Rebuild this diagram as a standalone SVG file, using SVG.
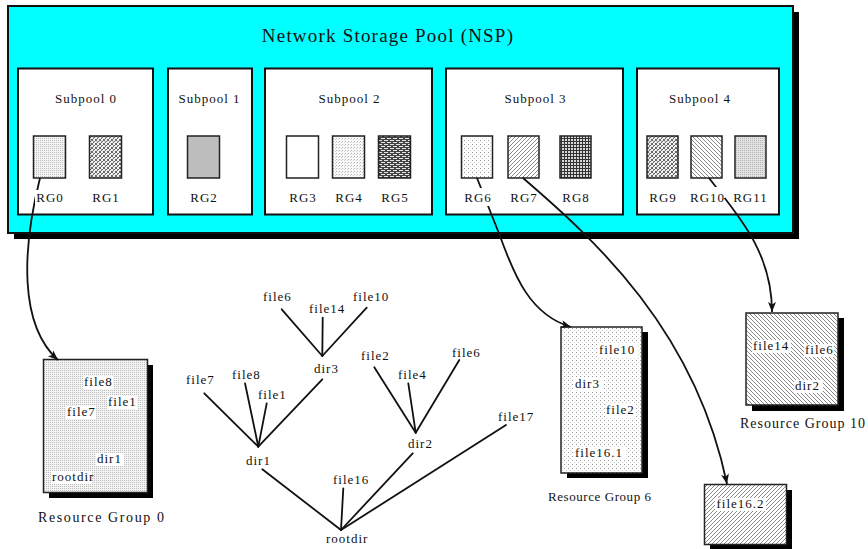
<svg xmlns="http://www.w3.org/2000/svg" width="868" height="549" viewBox="0 0 868 549">
  <style>
    text { font-family: "Liberation Serif", "Times New Roman", serif; fill: #111; }
    .title { font-size: 19px; letter-spacing: 1.2px; }
    .lbl { font-size: 13px; letter-spacing: 1px; }
    .cap { font-size: 14px; }
    .box { stroke: #111; stroke-width: 2; }
    .rg { stroke: #222; stroke-width: 1.5; }
    .shadow { fill: #000; }
    .conn { fill: none; stroke: #111; stroke-width: 1.8; }
    .tree { stroke: #111; stroke-width: 1.8; stroke-linecap: round; }
    .bg { fill: #fff; }
  </style>
  <defs>
    <!-- fine stipple -->
    <pattern id="pDotsFine" width="2" height="2" patternUnits="userSpaceOnUse">
      <rect width="2" height="2" fill="#f4f4f4"/>
      <rect width="1" height="1" fill="#bcbcbc"/>
    </pattern>
    <!-- woven texture -->
    <pattern id="pWoven" width="4" height="4" patternUnits="userSpaceOnUse">
      <rect width="4" height="4" fill="#eeeeee"/>
      <path d="M0,4 L4,0 M0,1 L1,0 M3,4 L4,3" stroke="#6a6a6a" stroke-width="1"/>
      <rect x="1" y="1" width="1" height="1" fill="#999"/>
    </pattern>
    <!-- light checker stipple -->
    <pattern id="pDotsLight" width="3" height="3" patternUnits="userSpaceOnUse">
      <rect width="3" height="3" fill="#fafafa"/>
      <rect width="1" height="1" fill="#b0b0b0"/>
      <rect x="2" y="1" width="1" height="1" fill="#d0d0d0"/>
    </pattern>
    <!-- bricks -->
    <pattern id="pBrick" width="6" height="4" patternUnits="userSpaceOnUse">
      <rect width="6" height="4" fill="#444"/>
      <rect x="0" y="0" width="4" height="1" fill="#e6e6e6"/>
      <rect x="3" y="2" width="4" height="1" fill="#e6e6e6"/>
      <rect x="-3" y="2" width="4" height="1" fill="#e6e6e6"/>
    </pattern>
    <!-- sparse dots -->
    <pattern id="pDotsSparse" width="4" height="4" patternUnits="userSpaceOnUse">
      <rect width="4" height="4" fill="#fff"/>
      <rect width="1" height="1" fill="#999"/>
      <rect x="2" y="2" width="1" height="1" fill="#cfcfcf"/>
    </pattern>
    <!-- forward diagonal hatch -->
    <pattern id="pHatchF" width="4" height="4" patternUnits="userSpaceOnUse">
      <rect width="4" height="4" fill="#fff"/>
      <path d="M-1,1 L1,-1 M0,4 L4,0 M3,5 L5,3" stroke="#888" stroke-width="1"/>
    </pattern>
    <!-- backward diagonal hatch -->
    <pattern id="pHatchB" width="4" height="4" patternUnits="userSpaceOnUse">
      <rect width="4" height="4" fill="#fff"/>
      <path d="M-1,3 L1,5 M0,0 L4,4 M3,-1 L5,1" stroke="#888" stroke-width="1"/>
    </pattern>
    <!-- dark grid -->
    <pattern id="pGrid" width="3" height="3" patternUnits="userSpaceOnUse">
      <rect width="3" height="3" fill="#d8d8d8"/>
      <path d="M0,0.5 H3 M0.5,0 V3" stroke="#333" stroke-width="1"/>
    </pattern>
    <!-- dense gray stipple -->
    <pattern id="pDotsGray" width="2" height="2" patternUnits="userSpaceOnUse">
      <rect width="2" height="2" fill="#e2e2e2"/>
      <rect width="1" height="1" fill="#b4b4b4"/>
    </pattern>
    <marker id="arrow" markerUnits="userSpaceOnUse" markerWidth="12" markerHeight="10" refX="10" refY="4" orient="auto">
      <path d="M0,0 L10,4 L0,8 L2.5,4 z" fill="#111"/>
    </marker>
  </defs>

  <!-- storage pool frame -->
  <g id="nsp">
    <rect class="shadow" x="14" y="12" width="785" height="227"/>
    <rect class="box" x="8" y="6" width="785" height="227" fill="#00ffff"/>
    <text class="title" x="388" y="42" text-anchor="middle">Network Storage Pool (NSP)</text>
  </g>

  <g id="subpool0">
    <rect class="box" x="18" y="68.5" width="135" height="146" fill="#fff"/>
    <text class="lbl" x="86" y="103" text-anchor="middle">Subpool 0</text>
    <rect id="rg0" class="rg" x="33.5" y="136" width="32" height="42" fill="url(#pDotsFine)"/>
    <rect id="rg1" class="rg" x="89.5" y="136" width="32" height="42" fill="url(#pWoven)"/>
  </g>
  <g id="subpool1">
    <rect class="box" x="168" y="68.5" width="84" height="146" fill="#fff"/>
    <text class="lbl" x="209.5" y="103" text-anchor="middle">Subpool 1</text>
    <rect id="rg2" class="rg" x="187.5" y="136" width="32" height="42" fill="#bdbdbd"/>
  </g>
  <g id="subpool2">
    <rect class="box" x="265" y="68.5" width="167" height="146" fill="#fff"/>
    <text class="lbl" x="349.5" y="103" text-anchor="middle">Subpool 2</text>
    <rect id="rg3" class="rg" x="286.5" y="136" width="32" height="42" fill="#fff"/>
    <rect id="rg4" class="rg" x="332.5" y="136" width="32" height="42" fill="url(#pDotsLight)"/>
    <rect id="rg5" class="rg" x="378.5" y="136" width="32" height="42" fill="url(#pBrick)"/>
  </g>
  <g id="subpool3">
    <rect class="box" x="446" y="68.5" width="177" height="146" fill="#fff"/>
    <text class="lbl" x="535.5" y="103" text-anchor="middle">Subpool 3</text>
    <rect id="rg6" class="rg" x="461.5" y="136" width="31" height="42" fill="url(#pDotsSparse)"/>
    <rect id="rg7" class="rg" x="508" y="136" width="31" height="42" fill="url(#pHatchF)"/>
    <rect id="rg8" class="rg" x="560" y="136" width="31" height="42" fill="url(#pGrid)"/>
  </g>
  <g id="subpool4">
    <rect class="box" x="637" y="68.5" width="142" height="146" fill="#fff"/>
    <text class="lbl" x="700" y="103" text-anchor="middle">Subpool 4</text>
    <rect id="rg9" class="rg" x="647" y="136" width="31" height="42" fill="url(#pWoven)"/>
    <rect id="rg10" class="rg" x="691" y="136" width="31" height="42" fill="url(#pHatchB)"/>
    <rect id="rg11" class="rg" x="735" y="136" width="31" height="42" fill="url(#pDotsGray)"/>
  </g>

  <!-- resource group contents -->
  <g id="resource-group-0">
    <rect class="shadow" x="49" y="365" width="104" height="133"/>
    <rect class="rg" x="43.5" y="359.5" width="104" height="133" fill="url(#pDotsFine)"/>
    <rect class="bg" x="83" y="376" width="30" height="13"/>
    <text class="lbl" x="84" y="386">file8</text>
    <rect class="bg" x="107" y="396" width="30" height="13"/>
    <text class="lbl" x="108" y="406">file1</text>
    <rect class="bg" x="66" y="406" width="30" height="13"/>
    <text class="lbl" x="67" y="416">file7</text>
    <rect class="bg" x="96" y="453" width="28" height="13"/>
    <text class="lbl" x="97" y="463">dir1</text>
    <rect class="bg" x="51" y="471" width="41" height="13"/>
    <text class="lbl" x="52" y="481">rootdir</text>
    <text class="lbl cap" x="38" y="522" textLength="127" lengthAdjust="spacing">Resource Group 0</text>
  </g>
  <g id="resource-group-6">
    <rect class="shadow" x="567" y="332" width="81" height="146"/>
    <rect class="rg" x="561" y="327" width="81" height="146" fill="url(#pDotsSparse)"/>
    <rect class="bg" x="598" y="344" width="39" height="13"/>
    <text class="lbl" x="599" y="354">file10</text>
    <rect class="bg" x="574" y="378" width="29" height="13"/>
    <text class="lbl" x="575" y="388">dir3</text>
    <rect class="bg" x="605" y="404" width="31" height="13"/>
    <text class="lbl" x="606" y="414">file2</text>
    <rect class="bg" x="574" y="447" width="51" height="13"/>
    <text class="lbl" x="575" y="457">file16.1</text>
    <text class="lbl" x="548" y="501" textLength="104" lengthAdjust="spacing">Resource Group 6</text>
  </g>
  <g id="resource-group-10">
    <rect class="shadow" x="752" y="318" width="92" height="93"/>
    <rect class="rg" x="746" y="313" width="92" height="92" fill="url(#pHatchB)"/>
    <rect class="bg" x="752" y="340" width="39" height="13"/>
    <text class="lbl" x="753" y="350">file14</text>
    <rect class="bg" x="804" y="344" width="30" height="13"/>
    <text class="lbl" x="805" y="354">file6</text>
    <rect class="bg" x="794" y="380" width="29" height="13"/>
    <text class="lbl" x="795" y="390">dir2</text>
    <text class="lbl cap" x="740" y="428" textLength="126" lengthAdjust="spacing">Resource Group 10</text>
  </g>
  <g id="file16-2">
    <rect class="shadow" x="710" y="490" width="82" height="60"/>
    <rect class="rg" x="704.5" y="484.5" width="82" height="60" fill="url(#pHatchF)"/>
    <rect class="bg" x="715" y="498" width="51" height="13"/>
    <text class="lbl" x="716.5" y="508">file16.2</text>
  </g>

  <!-- directory tree -->
  <g id="tree-nodes">
    <text class="lbl" x="263" y="301">file6</text>
    <text class="lbl" x="309" y="313">file14</text>
    <text class="lbl" x="353" y="301">file10</text>
    <text class="lbl" x="314" y="373">dir3</text>
    <text class="lbl" x="361" y="360">file2</text>
    <text class="lbl" x="452" y="357">file6</text>
    <text class="lbl" x="398" y="379">file4</text>
    <text class="lbl" x="186" y="384">file7</text>
    <text class="lbl" x="232" y="379">file8</text>
    <text class="lbl" x="258" y="399">file1</text>
    <text class="lbl" x="498" y="421">file17</text>
    <text class="lbl" x="408" y="448">dir2</text>
    <text class="lbl" x="246" y="465">dir1</text>
    <text class="lbl" x="333" y="484">file16</text>
    <text class="lbl" x="326" y="543">rootdir</text>
  </g>

  <g id="connectors">
    <!-- tree edges -->
    <line class="tree" x1="281.7" y1="309.3" x2="322.3" y2="356"/>
    <line class="tree" x1="322.7" y1="317.7" x2="322.3" y2="356"/>
    <line class="tree" x1="366.7" y1="307.7" x2="322.3" y2="356"/>
    <line class="tree" x1="204.3" y1="393.3" x2="258.3" y2="446.7"/>
    <line class="tree" x1="245" y1="383.3" x2="258.3" y2="446.7"/>
    <line class="tree" x1="266.7" y1="403.3" x2="258.3" y2="446.7"/>
    <line class="tree" x1="322.3" y1="379.3" x2="258.3" y2="446.7"/>
    <line class="tree" x1="374.3" y1="367.3" x2="415.7" y2="432.7"/>
    <line class="tree" x1="408.3" y1="383.3" x2="415.7" y2="432.7"/>
    <line class="tree" x1="459.3" y1="360" x2="415.7" y2="432.7"/>
    <line class="tree" x1="262.3" y1="469.3" x2="341" y2="530"/>
    <line class="tree" x1="343.3" y1="488.3" x2="341" y2="530"/>
    <line class="tree" x1="412.7" y1="453.3" x2="341" y2="530"/>
    <line class="tree" x1="506" y1="425" x2="341" y2="530"/>
    <!-- resource group links -->
    <path class="conn" d="M40,178 C22,250 19,325 58,360" marker-end="url(#arrow)"/>
    <path class="conn" d="M477,178 L500,236 C514,275 530,315 571,327" marker-end="url(#arrow)"/>
    <path class="conn" d="M523,178 C595,240 695,330 727,484" marker-end="url(#arrow)"/>
    <path class="conn" d="M709,178 C735,212 772,250 772,312" marker-end="url(#arrow)"/>
  </g>

  <!-- group labels sit over the links -->
  <g id="rg-labels">
    <rect class="bg" x="35" y="190" width="29" height="14"/>
    <text class="lbl" x="50" y="202" text-anchor="middle">RG0</text>
    <rect class="bg" x="91" y="190" width="29" height="14"/>
    <text class="lbl" x="106" y="202" text-anchor="middle">RG1</text>
    <rect class="bg" x="189" y="190" width="29" height="14"/>
    <text class="lbl" x="204" y="202" text-anchor="middle">RG2</text>
    <rect class="bg" x="288" y="190" width="29" height="14"/>
    <text class="lbl" x="303" y="202" text-anchor="middle">RG3</text>
    <rect class="bg" x="334" y="190" width="29" height="14"/>
    <text class="lbl" x="349" y="202" text-anchor="middle">RG4</text>
    <rect class="bg" x="380" y="190" width="29" height="14"/>
    <text class="lbl" x="395" y="202" text-anchor="middle">RG5</text>
    <rect class="bg" x="463" y="188" width="29" height="18"/>
    <text class="lbl" x="478" y="202" text-anchor="middle">RG6</text>
    <rect class="bg" x="509" y="190" width="26" height="14"/>
    <text class="lbl" x="524" y="202" text-anchor="middle">RG7</text>
    <rect class="bg" x="561" y="190" width="29" height="14"/>
    <text class="lbl" x="576" y="202" text-anchor="middle">RG8</text>
    <rect class="bg" x="648" y="190" width="29" height="14"/>
    <text class="lbl" x="663" y="202" text-anchor="middle">RG9</text>
    <rect class="bg" x="689" y="187" width="36" height="11"/>
    <text class="lbl" x="707.5" y="202" text-anchor="middle">RG10</text>
    <rect class="bg" x="733" y="190" width="35" height="14"/>
    <text class="lbl" x="750.5" y="202" text-anchor="middle">RG11</text>
  </g>
</svg>
